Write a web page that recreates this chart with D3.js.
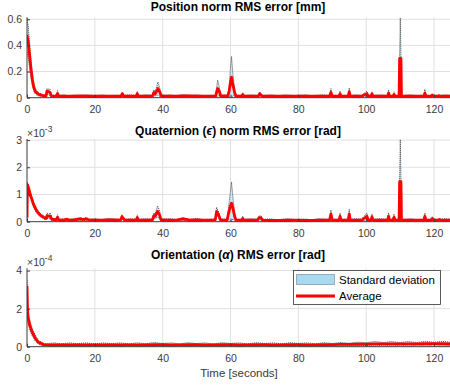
<!DOCTYPE html>
<html>
<head>
<meta charset="utf-8">
<script src="https://cdn.jsdelivr.net/npm/d3@7"></script>
<style>
body { margin: 0; background: #fff; }
svg { display: block; font-family: "Liberation Sans", Arial, sans-serif; }
</style>
</head>
<body>
<script>
// [time s, average, standard deviation]
// position norm RMS error, mm
var posData = [
  [0, 0.48, 0.13], [0.4, 0.42, 0.12], [0.8, 0.315, 0.09], [1.2, 0.213, 0.07], [1.6, 0.136, 0.05],
  [2, 0.08, 0.03], [2.5, 0.046, 0.02], [3.4, 0.026, 0.012], [4.9, 0.015, 0.008],
  [5.6, 0.013, 0.006], [5.9, 0.05, 0.02], [6.4, 0.045, 0.02], [6.8, 0.04, 0.025], [7.2, 0.013, 0.006],
  [8.6, 0.012, 0.006], [9, 0.03, 0.025], [9.4, 0.012, 0.006],
  [11, 0.012, 0.01], [12, 0.011, 0.004], [14, 0.012, 0.009], [16, 0.013, 0.005], [18, 0.012, 0.01],
  [20, 0.011, 0.005], [22, 0.012, 0.009], [24, 0.012, 0.005],
  [27.7, 0.012, 0.006], [28.1, 0.03, 0.012], [28.5, 0.012, 0.006],
  [30, 0.012, 0.01], [32.2, 0.012, 0.006], [32.5, 0.03, 0.02], [32.8, 0.012, 0.006],
  [35, 0.012, 0.01], [37, 0.013, 0.006], [37.4, 0.04, 0.02], [37.8, 0.03, 0.015], [38.6, 0.07, 0.05], [39.2, 0.04, 0.03], [39.6, 0.013, 0.006],
  [42, 0.012, 0.01], [44, 0.012, 0.005], [46, 0.013, 0.01], [48, 0.013, 0.005], [50, 0.012, 0.01], [52, 0.012, 0.005],
  [55.6, 0.013, 0.006], [56.2, 0.07, 0.065], [56.7, 0.05, 0.03], [57.1, 0.013, 0.006],
  [59.2, 0.013, 0.006], [59.6, 0.05, 0.04], [60, 0.12, 0.12], [60.3, 0.157, 0.158], [60.7, 0.1, 0.08], [61.2, 0.04, 0.03], [61.6, 0.013, 0.006],
  [63.3, 0.012, 0.006], [63.6, 0.025, 0.012], [63.9, 0.012, 0.006],
  [66, 0.012, 0.01], [68.2, 0.012, 0.006], [68.6, 0.03, 0.015], [69, 0.02, 0.01], [69.4, 0.012, 0.006],
  [72, 0.012, 0.01], [74, 0.011, 0.005], [76, 0.012, 0.01], [79, 0.012, 0.005], [82, 0.012, 0.01], [84, 0.011, 0.005], [87, 0.012, 0.01],
  [89.2, 0.012, 0.006], [89.6, 0.04, 0.03], [90, 0.012, 0.006],
  [92, 0.012, 0.006], [92.3, 0.03, 0.02], [92.6, 0.012, 0.006],
  [94.7, 0.012, 0.006], [95, 0.045, 0.03], [95.3, 0.012, 0.006],
  [97, 0.012, 0.01], [98.9, 0.012, 0.006], [99.2, 0.02, 0.01], [99.8, 0.025, 0.015], [100.2, 0.03, 0.02], [100.6, 0.012, 0.006],
  [101.4, 0.012, 0.006], [101.7, 0.03, 0.015], [102, 0.012, 0.006],
  [104, 0.012, 0.01], [106.3, 0.012, 0.006], [106.6, 0.035, 0.025], [106.9, 0.012, 0.006],
  [107.9, 0.012, 0.006], [108.2, 0.025, 0.02], [108.5, 0.012, 0.006],
  [109.7, 0.012, 0.006], [109.85, 0.3, 0.02], [110.05, 0.3, 0.31], [110.25, 0.3, 0.02], [110.4, 0.012, 0.006],
  [113, 0.012, 0.01], [115, 0.012, 0.005],
  [117, 0.012, 0.006], [117.3, 0.035, 0.03], [117.6, 0.012, 0.006],
  [119.2, 0.012, 0.006], [119.5, 0.02, 0.01], [119.8, 0.012, 0.006],
  [121.2, 0.012, 0.006], [121.5, 0.015, 0.01], [121.8, 0.012, 0.006], [123.5, 0.012, 0.01], [125, 0.012, 0.006]
];

// quaternion norm RMS error, x 1e-3 rad
var quatData = [
  [0, 0.15, 0.05], [0.12, 1.35, 0.1], [0.5, 1.22, 0.12], [1, 0.98, 0.12], [1.5, 0.8, 0.1],
  [2, 0.61, 0.1], [2.9, 0.39, 0.08], [3.9, 0.24, 0.06], [5.4, 0.12, 0.05],
  [5.7, 0.12, 0.04], [5.9, 0.22, 0.1], [6.5, 0.2, 0.08], [6.9, 0.2, 0.12], [7.3, 0.09, 0.04],
  [8.6, 0.07, 0.03], [9, 0.16, 0.1], [9.4, 0.06, 0.03],
  [11, 0.06, 0.05], [11.8, 0.09, 0.04], [12.3, 0.06, 0.03], [14, 0.07, 0.05],
  [15.8, 0.1, 0.05], [16.5, 0.08, 0.04], [17.5, 0.1, 0.06], [18.2, 0.07, 0.03],
  [20, 0.06, 0.05], [22, 0.06, 0.02], [24, 0.07, 0.05],
  [27.6, 0.06, 0.03], [28, 0.18, 0.08], [28.4, 0.12, 0.05], [28.8, 0.06, 0.03],
  [30.5, 0.06, 0.05], [32.2, 0.06, 0.03], [32.5, 0.15, 0.1], [32.8, 0.06, 0.03],
  [35, 0.06, 0.05], [37, 0.07, 0.03], [37.4, 0.22, 0.1], [37.8, 0.2, 0.08], [38.5, 0.38, 0.2], [39.1, 0.25, 0.15], [39.5, 0.07, 0.03],
  [42, 0.06, 0.05], [44, 0.06, 0.02], [46, 0.1, 0.05], [48, 0.06, 0.03], [50, 0.07, 0.05], [52, 0.06, 0.02],
  [55.5, 0.07, 0.03], [55.9, 0.38, 0.15], [56.5, 0.25, 0.1], [57, 0.07, 0.03],
  [59, 0.06, 0.03], [59.4, 0.3, 0.2], [59.9, 0.55, 0.5], [60.3, 0.68, 0.78], [60.7, 0.5, 0.4], [61.2, 0.2, 0.15], [61.6, 0.06, 0.03],
  [63.3, 0.06, 0.03], [63.6, 0.12, 0.08], [63.9, 0.06, 0.03],
  [66, 0.06, 0.05], [68, 0.06, 0.03], [68.4, 0.15, 0.06], [69, 0.14, 0.08], [69.4, 0.06, 0.03],
  [72, 0.05, 0.05], [74, 0.05, 0.02], [77, 0.06, 0.05], [79, 0.06, 0.02], [82, 0.05, 0.05], [84, 0.05, 0.02], [86, 0.06, 0.05],
  [89.2, 0.06, 0.03], [89.6, 0.28, 0.15], [90, 0.06, 0.03],
  [92, 0.06, 0.03], [92.3, 0.2, 0.12], [92.6, 0.06, 0.03],
  [94.7, 0.06, 0.03], [95, 0.28, 0.18], [95.3, 0.06, 0.03],
  [97, 0.06, 0.05], [98.9, 0.06, 0.03], [99.2, 0.12, 0.06], [99.8, 0.15, 0.1], [100.2, 0.2, 0.12], [100.6, 0.06, 0.03],
  [101.4, 0.06, 0.03], [101.7, 0.18, 0.1], [102, 0.06, 0.03],
  [104, 0.06, 0.05], [106.3, 0.06, 0.03], [106.6, 0.2, 0.12], [106.9, 0.06, 0.03],
  [107.9, 0.06, 0.03], [108.2, 0.16, 0.12], [108.5, 0.06, 0.03],
  [109.7, 0.06, 0.03], [109.85, 1.47, 0.1], [110.05, 1.47, 1.55], [110.25, 1.47, 0.1], [110.4, 0.06, 0.03],
  [111.5, 0.06, 0.03], [113, 0.06, 0.05], [115, 0.06, 0.02], [117, 0.06, 0.03], [117.3, 0.2, 0.12], [117.6, 0.06, 0.03],
  [119.2, 0.06, 0.03], [119.5, 0.12, 0.06], [119.8, 0.06, 0.03],
  [121.3, 0.06, 0.03], [121.6, 0.08, 0.04], [122, 0.06, 0.03], [123.5, 0.06, 0.05], [125, 0.06, 0.03]
];

// orientation RMS error, x 1e-4 rad
var oriData = [
  [0, 3.2, 0.3], [0.15, 2.0, 0.3], [0.3, 1.57, 0.3], [0.8, 1.13, 0.25], [1.5, 0.78, 0.2],
  [2.5, 0.43, 0.15], [3.4, 0.23, 0.1], [4.9, 0.11, 0.07], [6, 0.1, 0.06], [8, 0.1, 0.1],
  [10, 0.1, 0.05], [12.5, 0.1, 0.1], [15, 0.1, 0.06], [17.5, 0.1, 0.1], [20, 0.1, 0.05],
  [22.5, 0.1, 0.1], [25, 0.1, 0.06], [27.5, 0.1, 0.1], [30, 0.1, 0.05], [32.5, 0.1, 0.1],
  [35, 0.1, 0.06], [37.5, 0.11, 0.11], [40, 0.11, 0.06], [42.5, 0.1, 0.1], [45, 0.1, 0.05],
  [47.5, 0.11, 0.1], [50, 0.11, 0.06], [52.5, 0.1, 0.1], [55, 0.1, 0.05], [57.5, 0.11, 0.1],
  [60, 0.11, 0.06], [62.5, 0.1, 0.1], [65, 0.1, 0.05], [67.5, 0.11, 0.1], [70, 0.11, 0.06],
  [72.5, 0.1, 0.1], [75, 0.1, 0.05], [77.5, 0.11, 0.1], [80, 0.11, 0.06], [82.5, 0.1, 0.1],
  [85, 0.1, 0.05], [87.5, 0.11, 0.1], [90, 0.11, 0.06], [92.5, 0.12, 0.1], [95, 0.12, 0.06],
  [97.5, 0.13, 0.11], [100, 0.14, 0.07], [102.5, 0.15, 0.12], [105, 0.15, 0.07], [107.5, 0.15, 0.12],
  [110, 0.15, 0.07], [112.5, 0.15, 0.12], [115, 0.15, 0.07], [117.5, 0.16, 0.12], [120, 0.16, 0.07],
  [122.5, 0.16, 0.12], [125, 0.15, 0.08]
];

var xTicks = [0, 20, 40, 60, 80, 100, 120];
var legendLabels = ["Standard deviation", "Average"];

var W = 450, H = 388;
var left = 27, right = 451;

var panels = [
  { data: posData, yMax: 0.615, yTicks: [0, 0.2, 0.4, 0.6], top: 17.3, bottom: 97.7, exp: null,
    title: [["Position norm RMS error [mm]", false]], titleY: 10.5 },
  { data: quatData, yMax: 3.04, yTicks: [0, 1, 2, 3], top: 139, bottom: 221.7, exp: "-3",
    title: [["Quaternion (", false], ["\u03f5", true], [") norm RMS error [rad]", false]], titleY: 135 },
  { data: oriData, yMax: 4.12, yTicks: [0, 2, 4], top: 268.3, bottom: 346.7, exp: "-4",
    title: [["Orientation (", false], ["\u03b1", true], [") RMS error [rad]", false]], titleY: 259 }
];

var svg = d3.select("body").append("svg")
    .attr("width", W)
    .attr("height", H);

var x = d3.scaleLinear().domain([0, 125]).range([left, right]);

var axisColor = "#3a3a3a";
var bandColor = "#a7d9f2";

panels.forEach(function(p, i) {
  var y = d3.scaleLinear().domain([0, p.yMax]).range([p.bottom, p.top]);
  var g = svg.append("g");

  // clip
  svg.append("clipPath").attr("id", "clip" + i)
    .append("rect")
    .attr("x", left).attr("y", p.top)
    .attr("width", right - left).attr("height", p.bottom - p.top);

  // gridlines
  g.append("g")
    .selectAll("line")
    .data(xTicks.slice(1))
    .enter().append("line")
    .attr("x1", d => x(d)).attr("x2", d => x(d))
    .attr("y1", p.top).attr("y2", p.bottom)
    .attr("stroke", "#e0e0e0").attr("stroke-width", 1);
  g.append("g")
    .selectAll("line")
    .data(p.yTicks.slice(1))
    .enter().append("line")
    .attr("x1", left).attr("x2", right)
    .attr("y1", d => y(d)).attr("y2", d => y(d))
    .attr("stroke", "#e0e0e0").attr("stroke-width", 1);

  var plot = g.append("g").attr("clip-path", "url(#clip" + i + ")");

  // std band
  var area = d3.area()
    .x(d => x(d[0]))
    .y0(d => y(Math.max(0, d[1] - d[2])))
    .y1(d => y(d[1] + d[2]));
  plot.append("path")
    .datum(p.data)
    .attr("d", area)
    .attr("fill", bandColor)
    .attr("fill-opacity", 0.55);

  var upper = d3.line().x(d => x(d[0])).y(d => y(d[1] + d[2]));
  var lower = d3.line().x(d => x(d[0])).y(d => y(Math.max(0, d[1] - d[2])));
  [upper, lower].forEach(function(l) {
    plot.append("path")
      .datum(p.data)
      .attr("d", l)
      .attr("fill", "none")
      .attr("stroke", "#222")
      .attr("stroke-width", 0.8)
      .attr("stroke-dasharray", "1,1");
  });

  // average
  var avg = d3.line().x(d => x(d[0])).y(d => y(d[1]));
  plot.append("path")
    .datum(p.data)
    .attr("d", avg)
    .attr("fill", "none")
    .attr("stroke", "#ff0000")
    .attr("stroke-width", 2.8)
    .attr("stroke-linejoin", "round");

  // axes
  var yAxis = d3.axisLeft(y).tickValues(p.yTicks).tickSize(-3).tickPadding(5)
    .tickFormat(d3.format("~g"));
  var xAxis = d3.axisBottom(x).tickValues(xTicks).tickSize(-3).tickPadding(7.5);

  var ya = g.append("g").attr("transform", "translate(" + left + ",0)").call(yAxis);
  var xa = g.append("g").attr("transform", "translate(0," + p.bottom + ")").call(xAxis);
  [ya, xa].forEach(function(a) {
    a.select(".domain").attr("stroke", axisColor);
    a.selectAll(".tick line").attr("stroke", axisColor);
    a.selectAll("text").attr("fill", axisColor).style("font-size", "10.5px")
      .style("font-family", "'Liberation Sans', Arial, sans-serif");
  });
  ya.select(".domain").attr("d", "M0," + p.bottom + "V" + p.top);
  xa.select(".domain").attr("d", "M" + left + ",0H" + right);

  // exponent label
  if (p.exp) {
    var e = g.append("text")
      .attr("x", left)
      .attr("y", p.top - 2)
      .attr("fill", axisColor)
      .style("font-size", "10.5px");
    e.append("tspan").text("\u00d710");
    e.append("tspan").attr("dy", -5).style("font-size", "8.5px").text(p.exp);
  }

  // title
  var t = g.append("text")
    .attr("x", (left + right) / 2 - 1)
    .attr("y", p.titleY)
    .attr("text-anchor", "middle")
    .attr("fill", "#000")
    .style("font-size", "12px")
    .style("font-weight", "bold");
  p.title.forEach(function(s) {
    t.append("tspan").style("font-style", s[1] ? "italic" : "normal").text(s[0]);
  });

  // legend on last panel
  if (i === 2) {
    var lg = svg.append("g");
    lg.append("rect")
      .attr("x", 293.5).attr("y", 270.5).attr("width", 147).attr("height", 34)
      .attr("fill", "#fff").attr("stroke", "#333").attr("stroke-width", 0.8);
    lg.append("rect")
      .attr("x", 296.5).attr("y", 274.5).attr("width", 38).attr("height", 10)
      .attr("fill", bandColor).attr("stroke", "#333").attr("stroke-width", 0.7)
      .attr("stroke-dasharray", "1,1");
    lg.append("line")
      .attr("x1", 296).attr("x2", 335).attr("y1", 296).attr("y2", 296)
      .attr("stroke", "#ff0000").attr("stroke-width", 2.8);
    lg.selectAll("text")
      .data(legendLabels)
      .enter().append("text")
      .attr("x", 339)
      .attr("y", (d, k) => 284 + k * 16)
      .attr("fill", "#000")
      .style("font-size", "11.5px")
      .text(d => d);
  }
});

// x-axis label
svg.append("text")
  .attr("x", 239)
  .attr("y", 377)
  .attr("text-anchor", "middle")
  .attr("fill", axisColor)
  .style("font-size", "11.5px")
  .text("Time [seconds]");
</script>
</body>
</html>
